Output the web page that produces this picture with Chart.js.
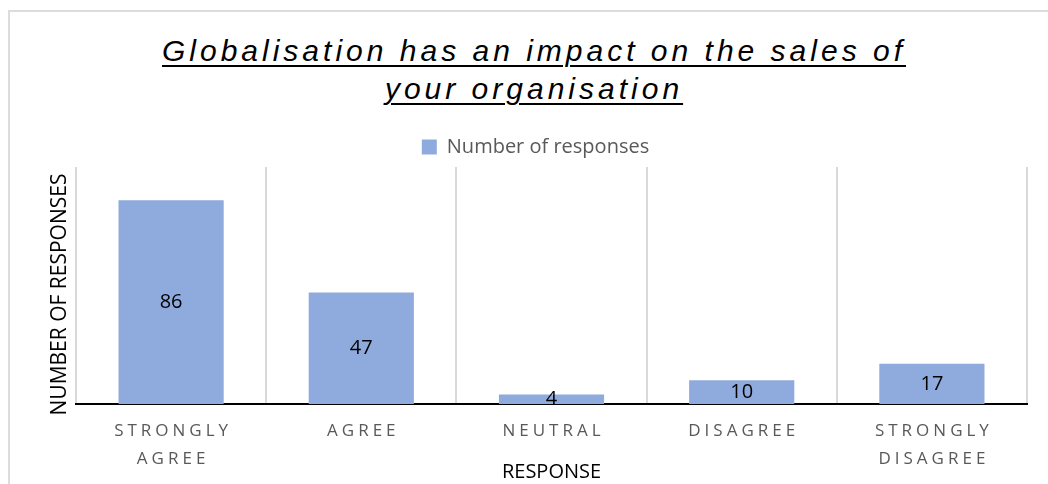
<!DOCTYPE html>
<html>
<head>
<meta charset="utf-8">
<script src="https://cdn.jsdelivr.net/npm/chart.js@4.4.1/dist/chart.umd.min.js"></script>
<style>
  html, body { margin: 0; padding: 0; background: #fff; overflow: hidden; }
  #frame {
    position: absolute; left: 8px; top: 10px; width: 1200px; height: 600px;
    border-left: 2px solid #dcdcdc; border-top: 2px solid #dcdcdc;
  }
  #title {
    position: absolute; left: 0; top: 32px; width: 1068px;
    text-align: center; color: #000;
    font: italic 30px/38px "Liberation Sans", Arial, sans-serif;
    letter-spacing: 4px;
    text-decoration: underline; text-decoration-thickness: 2px; text-underline-offset: 4px;
  }
  #wrap { position: absolute; left: 0; top: 0; width: 1048px; height: 484px; }
</style>
</head>
<body>
<div id="frame"></div>
<div id="title">Globalisation has an impact on the sales of<br>your organisation</div>
<div id="wrap"><canvas id="chart"></canvas></div>
<script>
const categories = [
  ['STRONGLY', 'AGREE'],
  'AGREE',
  'NEUTRAL',
  'DISAGREE',
  ['STRONGLY', 'DISAGREE']
];
const responses = [86, 47, 4, 10, 17];
const yRange = [0, 100];

const TICK_SPACING = 4;
const Y_TITLE_SHIFT = 9;

// letter-spaced bottom ticks, and the y title sitting a little low
const axisTweaks = {
  id: 'axisTweaks',
  beforeDraw(chart) {
    const x = chart.scales.x;
    const y = chart.scales.y;
    if (x._tweaked) return;
    const drawLabels = x.drawLabels;
    x.drawLabels = function (area) {
      const ctx = this.ctx;
      ctx.save();
      ctx.letterSpacing = TICK_SPACING + 'px';
      ctx.translate(TICK_SPACING / 2, 0);
      drawLabels.call(this, area);
      ctx.restore();
    };
    const drawTitle = y.drawTitle;
    y.drawTitle = function () {
      const ctx = this.ctx;
      ctx.save();
      ctx.translate(0, Y_TITLE_SHIFT);
      drawTitle.call(this);
      ctx.restore();
    };
    x._tweaked = true;
  }
};

// value printed in the middle of each bar
const barValues = {
  id: 'barValues',
  afterDraw(chart) {
    const ctx = chart.ctx;
    const meta = chart.getDatasetMeta(0);
    ctx.save();
    ctx.font = '20px "Open Sans"';
    ctx.fillStyle = '#000';
    ctx.textAlign = 'center';
    ctx.textBaseline = 'middle';
    meta.data.forEach((bar, i) => {
      ctx.fillText(String(responses[i]), bar.x, (bar.y + bar.base) / 2);
    });
    ctx.restore();
  }
};

new Chart(document.getElementById('chart'), {
  type: 'bar',
  data: {
    labels: categories,
    datasets: [{
      label: 'Number of responses',
      data: responses,
      backgroundColor: '#8FAADC',
      barPercentage: 0.553,
      categoryPercentage: 1
    }]
  },
  options: {
    responsive: true,
    maintainAspectRatio: false,
    animation: false,
    layout: { padding: { top: 127, left: 44, right: 21, bottom: 0 } },
    plugins: {
      legend: {
        position: 'top',
        labels: {
          boxWidth: 15, boxHeight: 15, padding: 10,
          color: '#595959',
          font: { family: 'Open Sans', size: 20 }
        }
      },
      tooltip: { enabled: false }
    },
    scales: {
      x: {
        afterFit: (scale) => { scale.height = 80; },
        grid: { display: true, color: '#d9d9d9', lineWidth: 2, drawTicks: false },
        border: { display: true, color: '#000', width: 2 },
        ticks: {
          color: '#595959',
          font: { family: 'Open Sans', size: 17, lineHeight: 1.6 },
          padding: 14, maxRotation: 0, autoSkip: false
        },
        title: {
          display: true, text: 'RESPONSE', color: '#000',
          font: { family: 'Open Sans', size: 20 },
          padding: { top: 0, bottom: 0 }
        }
      },
      y: {
        afterFit: (scale) => { scale.width = 32; },
        min: yRange[0], max: yRange[1],
        grid: { display: false },
        border: { display: false },
        ticks: { display: false },
        title: {
          display: true, text: 'NUMBER OF RESPONSES', color: '#000',
          font: { family: 'Open Sans', size: 21 },
          padding: { top: 3, bottom: 4 }
        }
      }
    }
  },
  plugins: [axisTweaks, barValues]
});
</script>
</body>
</html>
